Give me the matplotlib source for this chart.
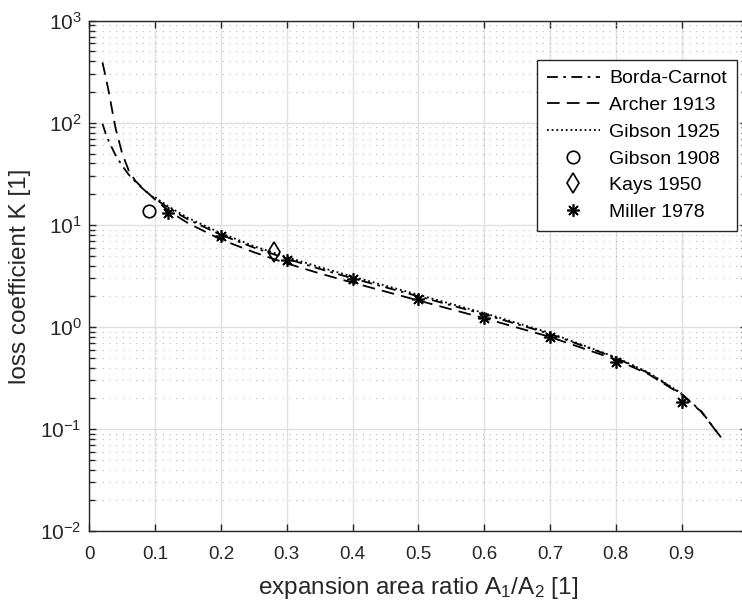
import numpy as np
import matplotlib
matplotlib.use('Agg')
import matplotlib.pyplot as plt

plt.rcParams['font.family'] = ['Liberation Sans', 'DejaVu Sans']
plt.rcParams['mathtext.fontset'] = 'custom'
plt.rcParams['mathtext.rm'] = 'Liberation Sans'
plt.rcParams['mathtext.it'] = 'Liberation Sans:italic'
plt.rcParams['axes.unicode_minus'] = False

# Borda-Carnot (dash-dot)
borda_x = [0.02, 0.025, 0.03, 0.04, 0.05, 0.06, 0.07, 0.08, 0.09, 0.10, 0.12, 0.15,
           0.20, 0.25, 0.30, 0.35, 0.40, 0.50, 0.60, 0.70, 0.80, 0.85, 0.90, 0.93, 0.96]
borda_k = [98, 78, 65, 48, 38, 31, 26.6, 23, 20.2, 18, 14.7, 11.3,
           8.0, 6.0, 4.67, 3.71, 3.0, 2.0, 1.33, 0.857, 0.50, 0.353, 0.222, 0.15, 0.083]

# Archer 1913 (dashed)
archer_x = [0.02, 0.025, 0.03, 0.035, 0.04, 0.05, 0.06, 0.07, 0.08, 0.09, 0.10, 0.12, 0.15,
            0.20, 0.25, 0.30, 0.35, 0.40, 0.50, 0.60, 0.70, 0.80, 0.85, 0.90, 0.93, 0.96]
archer_k = [390, 280, 195, 130, 88, 50, 34, 27, 23.3, 20.3, 17.7, 13.8, 10.4,
            7.2, 5.4, 4.2, 3.35, 2.72, 1.82, 1.22, 0.80, 0.48, 0.345, 0.218, 0.148, 0.083]

# Gibson 1925 (dotted)
gibson25_x = [0.10, 0.12, 0.15, 0.20, 0.25, 0.30, 0.35, 0.40, 0.50, 0.60, 0.70, 0.80, 0.85, 0.90]
gibson25_k = [18.6, 15.2, 11.7, 8.3, 6.2, 4.85, 3.86, 3.12, 2.07, 1.37, 0.875, 0.505, 0.357, 0.224]

# measurements
gibson08_x = [0.091]
gibson08_k = [13.7]
kays_x = [0.281]
kays_k = [5.37]
miller_x = [0.12, 0.2, 0.3, 0.4, 0.5, 0.6, 0.7, 0.8, 0.9]
miller_k = [13.0, 7.8, 4.5, 2.95, 1.88, 1.22, 0.80, 0.45, 0.185]

axcol = '#262626'
W, H = 742, 602

fig = plt.figure(figsize=(W / 100, H / 100), dpi=100)
ax = fig.add_axes([89.3 / W, (H - 531.2) / H, 658 / W, 510.5 / H])

lw = 1.3
ax.plot(borda_x, borda_k, color='k', lw=lw, dashes=(6, 3, 1.5, 3), label='Borda-Carnot')
ax.plot(archer_x, archer_k, color='k', lw=lw, dashes=(7, 4), label='Archer 1913')
ax.plot(gibson25_x, gibson25_k, color='k', lw=lw, dashes=(1, 1.6), label='Gibson 1925')
ax.plot(gibson08_x, gibson08_k, ls='none', marker='o', ms=9, mfc='none', mec='k', mew=1.2,
        label='Gibson 1908')
ax.plot(kays_x, kays_k, ls='none', marker='d', ms=10, mfc='none', mec='k', mew=1.2,
        label='Kays 1950')
ax.plot(miller_x, miller_k, ls='none', marker=(8, 2, 0), ms=9, mfc='none', mec='k', mew=1.2,
        label='Miller 1978')

ax.set_yscale('log')
ax.set_xlim(0, 1)
ax.set_ylim(1e-2, 1e3)
ax.set_xticks(np.arange(0, 1.0, 0.1))
ax.set_xticklabels(['0', '0.1', '0.2', '0.3', '0.4', '0.5', '0.6', '0.7', '0.8', '0.9'])

ax.grid(True, which='major', color='#e0e0e0', lw=1.0)
ax.yaxis.grid(True, which='minor', color='#bdbdbd', lw=0.8, ls=(0, (1, 5)))
ax.set_axisbelow(True)

ax.tick_params(which='both', direction='in', top=True, right=True, colors=axcol, width=1.0)
ax.tick_params(which='major', length=5)
ax.tick_params(which='minor', length=4)
ax.tick_params(axis='x', which='major', pad=11, labelsize=13.5)
ax.tick_params(axis='y', which='major', pad=5.5, labelsize=15)
for s in ax.spines.values():
    s.set_color(axcol)
    s.set_linewidth(1.0)

ax.set_xlabel(r'expansion area ratio A$_{\mathdefault{1}}$/A$_{\mathdefault{2}}$ [1]',
              fontsize=17.5, color=axcol, labelpad=8)
ax.set_ylabel('loss coefficient K [1]', fontsize=17.5, color=axcol, labelpad=7)


def make_legend(spacing):
    leg = ax.legend(loc='lower right', bbox_to_anchor=(736.7 / W, (H - 230.7) / H),
                    bbox_transform=fig.transFigure, borderaxespad=0, fontsize=14,
                    handlelength=2.7, handletextpad=0.5, labelspacing=spacing, borderpad=0.5,
                    fancybox=False, framealpha=1, edgecolor=axcol, numpoints=1)
    leg.get_frame().set_linewidth(1.0)
    return leg


# tune row pitch of the legend to about 26.7 px
ls = 0.2
leg = make_legend(ls)
fig.canvas.draw()
rend = fig.canvas.get_renderer()
t = leg.get_texts()
pitch = t[0].get_window_extent(rend).y0 - t[1].get_window_extent(rend).y0
ls = ls + (26.7 - pitch) / (14 * 100 / 72)
leg.remove()
leg = make_legend(ls)

fig.savefig('out.png', dpi=100)
